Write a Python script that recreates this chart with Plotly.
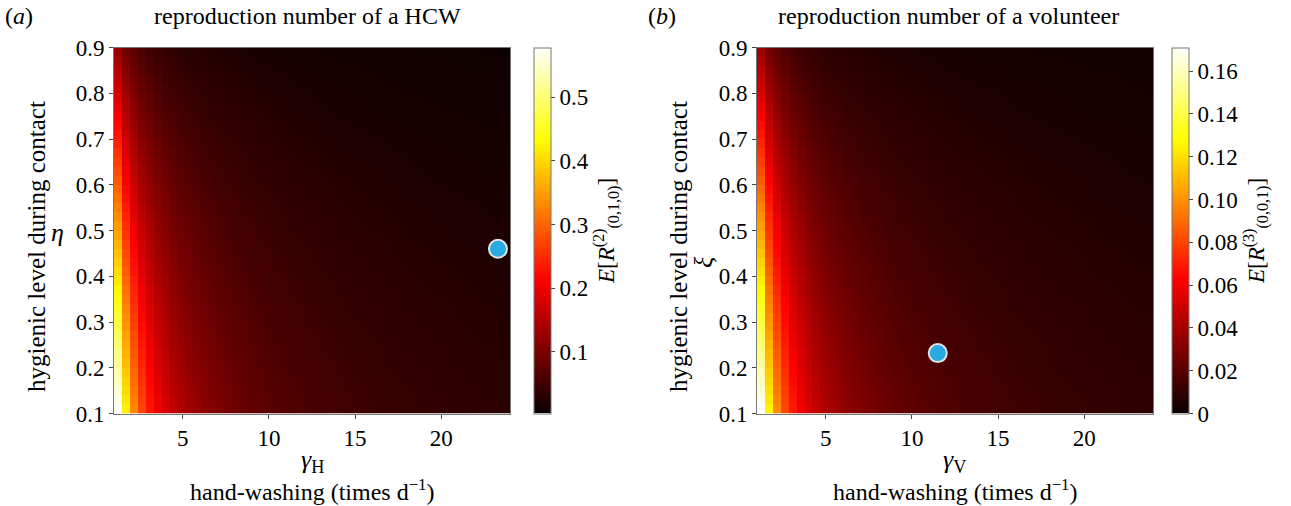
import numpy as np
import plotly.graph_objects as go

W, H = 1291, 506

# ---- data ----
gamma_edges = np.linspace(1, 24, 51)      # hand-washing rate grid (50 cells)
level_edges = np.linspace(0.1, 0.9, 41)   # hygienic level grid (40 cells)

# panel (a): E[R] along the bottom row (eta ~ 0.1), per gamma cell
hcw_bottom_row = [0.575, 0.4185, 0.329, 0.271, 0.2304, 0.2004, 0.1773, 0.1589, 0.1440, 0.1317,
                  0.1213, 0.1124, 0.1048, 0.0981, 0.0922, 0.0870, 0.0823, 0.0781, 0.0744, 0.0709,
                  0.0678, 0.0649, 0.0623, 0.0599, 0.0576, 0.0556, 0.0536, 0.0518, 0.0501, 0.0485,
                  0.0471, 0.0457, 0.0443, 0.0431, 0.0419, 0.0408, 0.0398, 0.0388, 0.0378, 0.0369,
                  0.0360, 0.0352, 0.0344, 0.0337, 0.0329, 0.0323, 0.0316, 0.0310, 0.0303, 0.0298]
# panel (b): E[R] along the bottom row (xi ~ 0.1), per gamma cell
vol_bottom_row = [0.1710, 0.1245, 0.0978, 0.0806, 0.0685, 0.0596, 0.0527, 0.0473, 0.0428, 0.0392,
                  0.0361, 0.0334, 0.0312, 0.0292, 0.0274, 0.0259, 0.0245, 0.0232, 0.0221, 0.0211,
                  0.0202, 0.0193, 0.0185, 0.0178, 0.0171, 0.0165, 0.0159, 0.0154, 0.0149, 0.0144,
                  0.0140, 0.0136, 0.0132, 0.0128, 0.0125, 0.0121, 0.0118, 0.0115, 0.0112, 0.0110,
                  0.0107, 0.0105, 0.0102, 0.0100, 0.0098, 0.0096, 0.0094, 0.0092, 0.0090, 0.0088]
# relative level along the hygienic-level axis (bottom -> top)
level_factor = [1.00, 0.98, 0.96, 0.94, 0.92, 0.90, 0.88, 0.86, 0.84, 0.82,
                0.80, 0.78, 0.76, 0.74, 0.72, 0.70, 0.68, 0.66, 0.64, 0.62,
                0.60, 0.58, 0.56, 0.54, 0.52, 0.50, 0.48, 0.46, 0.44, 0.42,
                0.40, 0.38, 0.36, 0.34, 0.32, 0.30, 0.28, 0.26, 0.24, 0.22]

hcw_point = (23.3, 0.46)
vol_point = (11.5, 0.232)

cbar_a_ticks = [0.1, 0.2, 0.3, 0.4, 0.5]
cbar_a_text = ["0.1", "0.2", "0.3", "0.4", "0.5"]
cbar_b_ticks = [0, 0.02, 0.04, 0.06, 0.08, 0.10, 0.12, 0.14, 0.16]
cbar_b_text = ["0", "0.02", "0.04", "0.06", "0.08", "0.10", "0.12", "0.14", "0.16"]
x_ticks = [5, 10, 15, 20]
y_ticks = [0.1, 0.2, 0.3, 0.4, 0.5, 0.6, 0.7, 0.8, 0.9]

z_a = np.outer(level_factor, hcw_bottom_row)
z_b = np.outer(level_factor, vol_bottom_row)

hot = [[0.0, "rgb(11,0,0)"], [0.365, "rgb(255,0,0)"],
       [0.746, "rgb(255,255,0)"], [1.0, "rgb(255,255,255)"]]

FONT = "Liberation Serif, Times New Roman, serif"
TICK = 23

def px(x):
    return x / W

def py(y):
    return 1 - y / H

top, bot = 47.5, 413.5
ax_a = (114, 510)
ax_b = (757, 1153)

fig = go.Figure()

def cbar(x0, ticks, text, title):
    return dict(
        x=px(x0), xanchor="left", xref="paper", xpad=0, ypad=0,
        y=py((top + bot) / 2), yanchor="middle", yref="paper",
        len=(bot - top) / H, lenmode="fraction", thickness=17,
        outlinecolor="#777", outlinewidth=1,
        tickvals=ticks, ticktext=text, ticks="outside", ticklen=4,
        tickcolor="#444", tickfont=dict(family=FONT, size=TICK, color="black"),
        title=dict(text=title, side="right", font=dict(family=FONT, size=23, color="black")),
    )

fig.add_trace(go.Heatmap(
    x=gamma_edges, y=level_edges, z=z_a, colorscale=hot, zmin=0.003, zmax=0.578,
    xaxis="x", yaxis="y",
    colorbar=cbar(534, cbar_a_ticks, cbar_a_text,
                  "<i>E</i>[<i>R</i><sup>(2)</sup><sub>(0,1,0)</sub>]")))
fig.add_trace(go.Heatmap(
    x=gamma_edges, y=level_edges, z=z_b, colorscale=hot, zmin=0.0, zmax=0.171,
    xaxis="x2", yaxis="y2",
    colorbar=cbar(1172, cbar_b_ticks, cbar_b_text,
                  "<i>E</i>[<i>R</i><sup>(3)</sup><sub>(0,0,1)</sub>]")))

mk = dict(size=18, color="rgb(41,171,226)", line=dict(color="rgb(225,225,225)", width=2))
fig.add_trace(go.Scatter(x=[hcw_point[0]], y=[hcw_point[1]], mode="markers", marker=mk,
                         xaxis="x", yaxis="y", showlegend=False))
fig.add_trace(go.Scatter(x=[vol_point[0]], y=[vol_point[1]], mode="markers", marker=mk,
                         xaxis="x2", yaxis="y2", showlegend=False))

def xax(dom, anchor):
    return dict(domain=[px(dom[0]), px(dom[1])], range=[1, 24], anchor=anchor,
                tickvals=x_ticks, ticks="outside", ticklen=4, tickcolor="#444",
                showline=True, linecolor="#777", linewidth=1, mirror=True,
                showgrid=False, zeroline=False, automargin=False,
                tickfont=dict(family=FONT, size=TICK, color="black"))

def yax(anchor):
    return dict(domain=[py(bot), py(top)], range=[0.1, 0.9], anchor=anchor,
                tickvals=y_ticks, ticks="outside", ticklen=4, tickcolor="#444",
                showline=True, linecolor="#777", linewidth=1, mirror=True,
                showgrid=False, zeroline=False, tickformat=".1f", automargin=False,
                tickfont=dict(family=FONT, size=TICK, color="black"))

anns = []
def ann(x, y, text, size=18, angle=0, xanchor="center"):
    anns.append(dict(x=px(x), y=py(y), xref="paper", yref="paper", text=text,
                     showarrow=False, textangle=angle, xanchor=xanchor, yanchor="middle",
                     font=dict(family=FONT, size=size, color="black")))

ann(19, 16, "(<i>a</i>)", 24)
ann(307, 16, "reproduction number of a HCW", 24)
ann(662, 16, "(<i>b</i>)", 24)
ann(948, 16, "reproduction number of a volunteer", 24)

ann(36, 247, "hygienic level during contact", 25, -90)
ann(57, 232, "<i>η</i>", 26)
ann(678, 247, "hygienic level during contact", 25, -90)
ann(703, 262, "<i>ξ</i>", 26, -90)

ann(312, 461, "<i>γ</i><sub>H</sub>", 26)
ann(312, 490, "hand-washing (times d<sup>−1</sup>)", 24)
ann(955, 461, "<i>γ</i><sub>V</sub>", 26)
ann(955, 490, "hand-washing (times d<sup>−1</sup>)", 24)

fig.update_layout(
    width=W, height=H, margin=dict(l=0, r=0, t=0, b=0, autoexpand=False),
    font=dict(family=FONT, color="black"),
    paper_bgcolor="white", plot_bgcolor="white", showlegend=False,
    xaxis=xax(ax_a, "y"), yaxis=yax("x"),
    xaxis2=xax(ax_b, "y2"), yaxis2=yax("x2"),
    annotations=anns,
)

fig.write_html("out.html")
